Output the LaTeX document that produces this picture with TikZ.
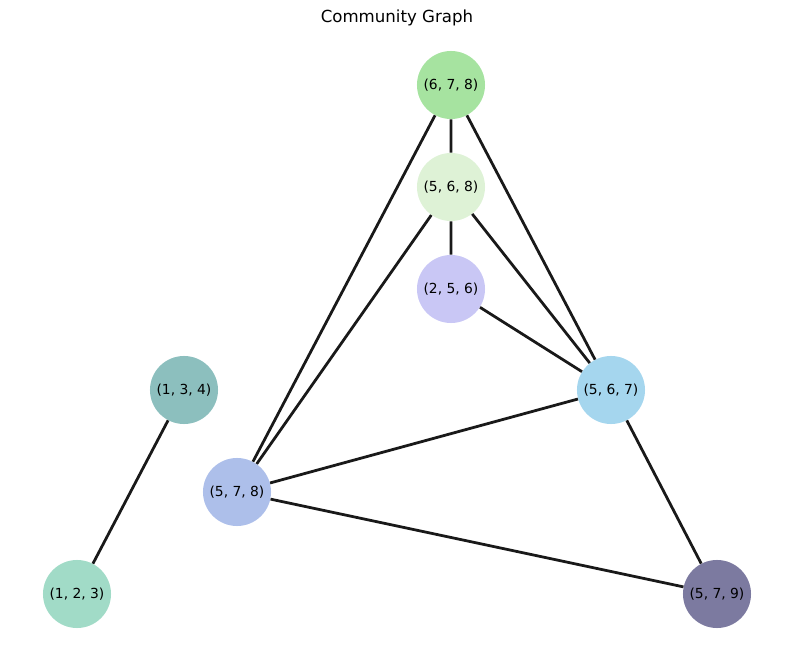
\documentclass[tikz,border=0pt]{standalone}
\usepackage{fontspec}
\setmainfont{DejaVu Sans}

\definecolor{cA}{RGB}{166,227,160}
\definecolor{cB}{RGB}{222,242,214}
\definecolor{cC}{RGB}{201,199,245}
\definecolor{cD}{RGB}{165,214,238}
\definecolor{cE}{RGB}{140,191,190}
\definecolor{cF}{RGB}{173,191,234}
\definecolor{cG}{RGB}{161,219,199}
\definecolor{cH}{RGB}{124,122,160}

\tikzset{
  comm/.style={circle,minimum size=0.68in,inner sep=0pt,font=\fontsize{10}{12}\selectfont},
  link/.style={draw=black!90,line width=2pt}
}

\begin{document}
\begin{tikzpicture}[x=0.01in,y=-0.01in]
                    \useasboundingbox (0,0) rectangle (794,658);
                    \node[font=\fontsize{12}{14}\selectfont] (title) at (397,18) {Community Graph};
                    \node[comm,fill=cA] (A) at (451,85) {(6, 7, 8)};
                    \node[comm,fill=cB] (B) at (451,187) {(5, 6, 8)};
                    \node[comm,fill=cC] (C) at (451,289) {(2, 5, 6)};
                    \node[comm,fill=cD] (D) at (611,390) {(5, 6, 7)};
                    \node[comm,fill=cE] (E) at (184,390) {(1, 3, 4)};
                    \node[comm,fill=cF] (F) at (237,492) {(5, 7, 8)};
                    \node[comm,fill=cG] (G) at (77,594) {(1, 2, 3)};
                    \node[comm,fill=cH] (H) at (717,594) {(5, 7, 9)};
                    \draw[link] (A) -- (B) (A) -- (D) (A) -- (F);
                    \draw[link] (B) -- (C) (B) -- (D) (B) -- (F);
                    \draw[link] (C) -- (D);
                    \draw[link] (D) -- (F) (D) -- (H);
                    \draw[link] (F) -- (H);
                    \draw[link] (E) -- (G);
                \end{tikzpicture}
\end{document}
